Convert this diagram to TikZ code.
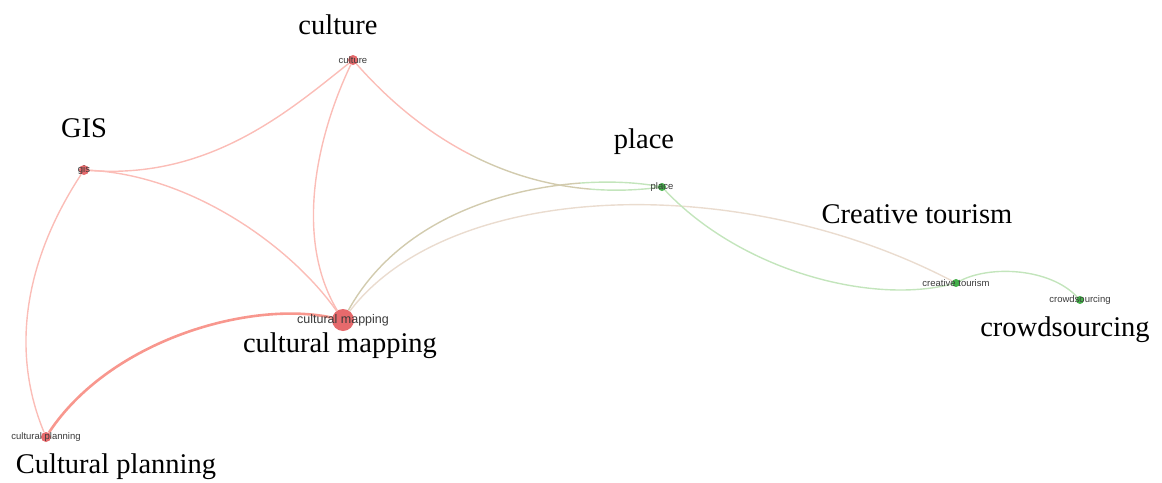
\documentclass[tikz,border=0pt]{standalone}
\usepackage{fontspec}
\setmainfont{Liberation Serif}
\newfontfamily\tagfont{Liberation Sans}
\usetikzlibrary{backgrounds}
\definecolor{clusterred}{HTML}{E35A5C}
\definecolor{clustergreen}{HTML}{44B04A}
\definecolor{linkred}{HTML}{FBBDB7}
\definecolor{linkredstrong}{HTML}{F8978E}
\definecolor{linkgreen}{HTML}{C3E5BC}
\definecolor{linkmix}{HTML}{D2CBAE}
\definecolor{linkbeige}{HTML}{EADCCF}
\definecolor{tagtext}{HTML}{3A3A3A}
\begin{document}
\begin{tikzpicture}[x=1pt,y=-1pt,
		red node/.style={circle,fill=clusterred,fill opacity=.9,minimum size=10pt,inner sep=0pt},
		big node/.style={red node,minimum size=22pt},
		green node/.style={circle,fill=clustergreen,minimum size=8pt,inner sep=0pt},
		tag/.style={font=\tagfont\fontsize{9.5}{10}\selectfont,text=tagtext,text opacity=1,inner sep=0pt},
		big tag/.style={tag,font=\tagfont\fontsize{12.5}{13}\selectfont},
		caption/.style={font=\fontsize{28.5}{30}\selectfont,anchor=base,inner sep=0pt},
		red link/.style={draw=linkred,line width=1.4pt},
		strong link/.style={draw=linkredstrong,line width=2.6pt},
		green link/.style={draw=linkgreen,line width=1.4pt},
		mix link/.style={draw=linkmix,line width=1.4pt},
		beige link/.style={draw=linkbeige,line width=1.4pt}]
		\useasboundingbox (0,0) rectangle (1162,482);
		% keywords
		\node[red node, label={[tag]center:culture}] (culture) at (353,60) {};
		\node[red node, label={[tag]center:gis}] (gis) at (84,170) {};
		\node[big node, label={[big tag]center:cultural mapping}] (mapping) at (343,320) {};
		\node[red node, label={[tag]center:cultural planning}] (planning) at (46,437) {};
		\node[green node, label={[tag]center:place}] (place) at (662,187) {};
		\node[green node, label={[tag]center:creative tourism}] (tourism) at (956,283) {};
		\node[green node, label={[tag]center:crowdsourcing}] (crowd) at (1080,300) {};
		% links
		\begin{scope}[on background layer]
		\draw[red link] (gis) .. controls (210,180) and (290,110) .. (culture);
		\draw[red link] (gis) .. controls (190,175) and (290,245) .. (mapping);
		\draw[red link] (gis) .. controls (25,260) and (10,350) .. (planning);
		\draw[red link] (culture) .. controls (315,140) and (295,240) .. (mapping);
		\draw[strong link] (mapping) .. controls (250,300) and (110,340) .. (planning);
		% red to green links, coloured in parts
		\foreach \from/\ctrl/\part/\xa/\xb in {
				culture/{(450,170) and (560,200)}/red link/0/470,
				culture/{(450,170) and (560,200)}/mix link/470/590,
				culture/{(450,170) and (560,200)}/green link/590/1162,
				mapping/{(415,190) and (580,172)}/mix link/0/580,
				mapping/{(415,190) and (580,172)}/green link/580/1162} {
			\begin{scope}
			\clip (\xa,0) rectangle (\xb,482);
			\draw[\part] (\from) .. controls \ctrl .. (place);
			\end{scope}
		}
		\draw[beige link] (mapping) .. controls (450,180) and (740,170) .. (tourism);
		\draw[green link] (place) .. controls (740,270) and (870,305) .. (tourism);
		\draw[green link] (tourism) .. controls (990,265) and (1050,268) .. (crowd);
		\end{scope}
		% captions
		\node[caption] (culture-cap) at (338,34) {culture};
		\node[caption] (gis-cap) at (84,137) {GIS};
		\node[caption] (place-cap) at (644,148) {place};
		\node[caption] (tourism-cap) at (917,223) {Creative tourism};
		\node[caption] (mapping-cap) at (340,352) {cultural mapping};
		\node[caption] (crowd-cap) at (1065,336) {crowdsourcing};
		\node[caption] (planning-cap) at (116,473) {Cultural planning};
\end{tikzpicture}
\end{document}
